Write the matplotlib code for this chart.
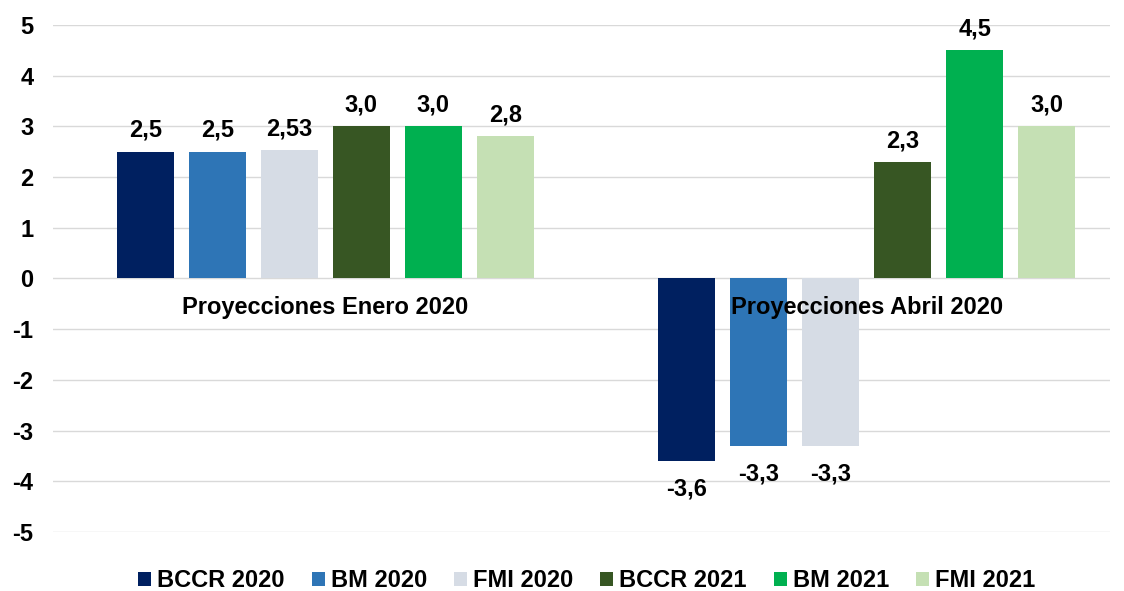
import numpy as np
import matplotlib.pyplot as plt

plt.rcParams['font.family'] = ['Liberation Sans', 'DejaVu Sans']
plt.rcParams['font.weight'] = 'bold'
plt.rcParams['axes.unicode_minus'] = False

# data
groups = ['Proyecciones Enero 2020', 'Proyecciones Abril 2020']
series = ['BCCR 2020', 'BM 2020', 'FMI 2020', 'BCCR 2021', 'BM 2021', 'FMI 2021']
bccr_2020 = [2.5, -3.6]
bm_2020 = [2.5, -3.3]
fmi_2020 = [2.53, -3.3]
bccr_2021 = [3.0, 2.3]
bm_2021 = [3.0, 4.5]
fmi_2021 = [2.8, 3.0]
labels = [['2,5', '-3,6'], ['2,5', '-3,3'], ['2,53', '-3,3'],
          ['3,0', '2,3'], ['3,0', '4,5'], ['2,8', '3,0']]
colors = ['#002060', '#2E75B6', '#D6DCE5', '#375623', '#00B050', '#C5E0B4']

values = [bccr_2020, bm_2020, fmi_2020, bccr_2021, bm_2021, fmi_2021]

fig = plt.figure(figsize=(11.24, 5.91), dpi=100)
ax = fig.add_axes([0.047, 0.0998, 0.9405, 0.858])

x = np.arange(len(groups))
step = 0.133
width = 0.105
for i, vals in enumerate(values):
    pos = x + (i - 2.5) * step
    ax.bar(pos, vals, width=width, color=colors[i], label=series[i], zorder=3)
    for p, v, t in zip(pos, vals, labels[i]):
        off = 7 if v >= 0 else -12
        ax.annotate(t, xy=(p, v), xytext=(0, off), textcoords='offset points',
                    ha='center', va='bottom' if v >= 0 else 'top',
                    fontsize=17, fontweight='bold')

for i, g in enumerate(groups):
    ax.annotate(g, xy=(i, 0), xytext=(0, -21), textcoords='offset points',
                ha='center', va='center', fontsize=17, fontweight='bold', zorder=5)

ax.set_xlim(-0.503, 1.449)
ax.set_ylim(-5, 5)
ax.set_yticks(range(-5, 6))
ax.set_xticks([])
ax.grid(axis='y', color='#D9D9D9', linewidth=1, zorder=0)
for s in ax.spines.values():
    s.set_visible(False)
ax.tick_params(axis='y', length=0, labelsize=17, pad=14)
for t in ax.get_yticklabels():
    t.set_fontweight('bold')

leg = fig.legend(loc='lower center', bbox_to_anchor=(0.522, -0.038), ncol=6,
                 frameon=False, fontsize=17, handlelength=0.55, handleheight=0.55,
                 handletextpad=0.25, columnspacing=1.15)
for t in leg.get_texts():
    t.set_fontweight('bold')

fig.savefig('out.png', dpi=100)
